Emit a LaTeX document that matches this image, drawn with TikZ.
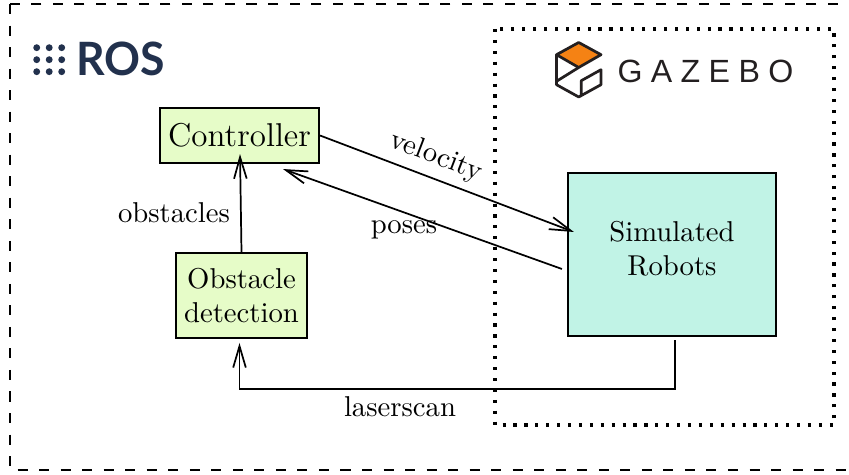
\documentclass[tikz,border=0pt]{standalone}
\usepackage{fontspec}
\usetikzlibrary{arrows.meta,calc}
\newfontfamily\rosfont{Lato}
\newfontfamily\gzfont[LetterSpace=26]{Liberation Sans}
\definecolor{ctrlgreen}{RGB}{230,252,200}
\definecolor{simcyan}{RGB}{193,243,230}
\definecolor{rosnavy}{RGB}{34,49,77}
\definecolor{gzorange}{RGB}{245,130,20}
\definecolor{gzdark}{RGB}{35,31,32}
\begin{document}
\begin{tikzpicture}[x=0.3484pt,y=-0.3484pt,
  box/.style={draw=black,line width=0.7pt,inner sep=0pt,align=center},
  arr/.style={line width=0.6pt,-{Straight Barb[length=7.5pt,width=4.4pt]}},
  lbl/.style={inner sep=0pt},
  rosbox/.style={dash pattern=on 3.5pt off 4pt,line width=0.7pt},
  gzbox/.style={dash pattern=on 1.1pt off 2.7pt,line width=1.1pt}]
\useasboundingbox (0,0) rectangle (849,475);
\begin{scope}
\clip (0,0) rectangle (849,475);
\draw[rosbox] (10,4) rectangle (862,470);
\end{scope}
\draw[gzbox] (495,29) rectangle (834,425);

% ROS logo
\foreach \i in {0,1,2}{
  \foreach \j in {0,1,2}{
    \fill[rosnavy] ({36.7+12.5*\i},{47.7+12*\j}) circle[radius=1.2pt];
  }
}
\node[anchor=base west,inner sep=0pt,text=rosnavy,xscale=0.97,
  font=\rosfont\bfseries\fontsize{16}{16}\selectfont] (rostext) at (76,76) {ROS};

% Gazebo logo
\begin{scope}[line width=0.95pt,draw=gzdark,line join=round]
\filldraw[fill=gzorange] (578.7,42.5) -- (601,54.7) -- (578.7,67.5) -- (556.5,54.7) -- cycle;
\draw (556.5,54.7) -- (556.5,84.7) -- (578.7,97) -- (601,84.7) -- (601,69.7) -- (581.3,80.7) -- (581.3,95.5);
\draw (578.7,67.5) -- (557,81);
\end{scope}
\node[anchor=base west,inner sep=0pt,text=gzdark,
  font=\gzfont\fontsize{11.2}{12}\selectfont] (gztext) at (617,83) {GAZEBO};

% nodes
\node[box,fill=ctrlgreen,minimum width=55.4pt,minimum height=19.2pt,
  font=\fontsize{11.5}{14}\selectfont] (ctrl) at (239.5,135.5) {Controller};
\node[box,fill=ctrlgreen,minimum width=45.6pt,minimum height=29.6pt] (obs) at (241.5,295.5) {Obstacle\\detection};
\node[box,fill=simcyan,minimum width=72.5pt,minimum height=56.8pt] (sim) at (672,254.5) {};
\node[lbl,align=center] (simtext) at ($(sim.center)+(0,-6)$) {Simulated\\Robots};

% connectors
\draw[arr] (obs.north) -- ($(ctrl.south)+(0.5,-10)$);
\draw[arr] (ctrl.east) -- ($(sim.west)+(7,-22.5)$);
\draw[arr] ($(sim.west)+(-5,14.5)$) -- ($(ctrl.south)+(43.5,5)$);
\draw[arr] ($(sim.south)+(3,3)$) |- ($(obs.south)+(-2,50)$) -- ($(obs.south)+(-2,4)$);

% labels
\node[lbl,rotate=-21] (lvel) at (436,157) {velocity};
\node[lbl] (lpos) at (404,230) {poses};
\node[lbl] (lobs) at (174,213) {obstacles};
\node[lbl] (llas) at (400,407) {laserscan};
\end{tikzpicture}
\end{document}
